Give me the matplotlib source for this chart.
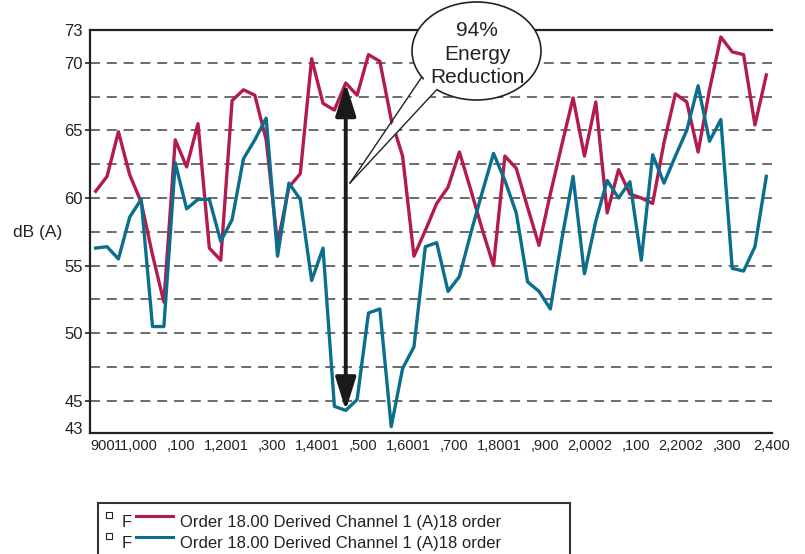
import matplotlib.pyplot as plt
import numpy as np
from matplotlib.lines import Line2D
from matplotlib.patches import Ellipse, Polygon, Rectangle

plt.rcParams['font.family'] = ['Liberation Sans', 'DejaVu Sans']

# --- data -------------------------------------------------------------
rpm = np.arange(912.5, 2400, 25)  # bin centres, 25 rpm apart

order18_before = [60.5, 61.6, 64.9, 61.7, 59.7, 55.8, 52.3, 64.3, 62.3, 65.5,
                  56.3, 55.4, 67.2, 68.0, 67.6, 64.3, 56.6, 60.8, 61.8, 70.3,
                  67.0, 66.5, 68.5, 67.6, 70.6, 70.1, 65.8, 63.1, 55.7, 57.6,
                  59.6, 60.8, 63.4, 60.6, 57.7, 55.0, 63.1, 62.2, 59.3, 56.5,
                  60.3, 63.9, 67.4, 63.1, 67.1, 58.9, 62.1, 60.3, 60.0, 59.6,
                  64.1, 67.7, 67.1, 63.4, 68.0, 71.9, 70.8, 70.6, 65.4, 69.1]

order18_after = [56.3, 56.4, 55.5, 58.6, 59.9, 50.5, 50.5, 62.6, 59.2, 59.9,
                 59.9, 56.8, 58.4, 62.9, 64.3, 65.9, 55.7, 61.1, 59.9, 53.9,
                 56.3, 44.6, 44.3, 45.1, 51.5, 51.8, 43.1, 47.4, 49.0, 56.4,
                 56.7, 53.1, 54.2, 57.4, 60.4, 63.3, 61.3, 58.9, 53.8, 53.1,
                 51.8, 56.9, 61.6, 54.4, 58.3, 61.3, 60.0, 61.2, 55.4, 63.2,
                 61.1, 63.1, 65.0, 68.3, 64.2, 65.8, 54.8, 54.6, 56.4, 61.6]

series_labels = ['Order 18.00 Derived Channel 1 (A)18 order',
                 'Order 18.00 Derived Channel 1 (A)18 order']
colors = ['#b31a4e', '#0a6e8c']

x_ticks = np.arange(900, 2401, 100)
x_ticklabels = ['900', '11,000', ',100', '1,2001', ',300', '1,4001', ',500',
                '1,6001', ',700', '1,8001', ',900', '2,0002', ',100',
                '2,2002', ',300', '2,400']
y_ticks = [43, 45, 50, 55, 60, 65, 70, 72.42]
y_ticklabels = ['43', '45', '50', '55', '60', '65', '70', '73']
grid_levels = np.arange(45, 70.1, 2.5)

arrow_idx = 22  # where the reduction arrow sits
callout = '94%\nEnergy\nReduction'

# --- figure -----------------------------------------------------------
W, H = 805, 554


def fx(px):
    return px / W


def fy(py):
    return 1 - py / H


fig = plt.figure(figsize=(W / 100, H / 100), dpi=100)
ax = fig.add_axes([fx(90), fy(433), (772 - 90) / W, (433 - 30) / H])

for level in grid_levels:
    ax.axhline(level, color='#444444', lw=1.1, ls=(0, (6.5, 4.5)), zorder=1)

ax.plot(rpm, order18_before, color=colors[0], lw=2.4, zorder=3)
ax.plot(rpm, order18_after, color=colors[1], lw=2.4, zorder=3)

ax.annotate('', xy=(rpm[arrow_idx], order18_after[arrow_idx]),
            xytext=(rpm[arrow_idx], order18_before[arrow_idx]),
            arrowprops=dict(arrowstyle='<|-|>,head_length=0.8,head_width=0.25',
                            lw=2.8, color='#1a1a1a', mutation_scale=25,
                            shrinkA=0, shrinkB=0),
            zorder=5)

ax.set_xlim(900, 2400)
ax.set_ylim(42.63, 72.42)
ax.set_xticks(x_ticks)
ax.set_xticklabels(x_ticklabels)
ax.set_yticks(y_ticks)
ax.set_yticklabels(y_ticklabels)
ax.get_xticklabels()[0].set_ha('left')
ax.tick_params(axis='x', length=0, pad=4, labelsize=10.5, colors='#222222')
ax.tick_params(axis='y', length=3.6, width=1.2, pad=1.5, labelsize=12,
               colors='#222222')
yt = ax.yaxis.get_major_ticks()
yt[0].tick1line.set_visible(False)
yt[-1].tick1line.set_visible(False)

for side in ['left', 'bottom', 'top']:
    ax.spines[side].set_linewidth(1.6)
    ax.spines[side].set_color('#222222')
ax.spines['right'].set_visible(False)

ax.set_ylabel('dB (A)', rotation=0, fontsize=12.5, color='#222222',
              ha='center', va='center')
ax.yaxis.set_label_coords((38 - 90) / 682, (433 - 233) / 403)

# --- callout bubble ----------------------------------------------------
cx, cy, a, b = 476.5, 51, 64.5, 49
tip = (350, 183)
base = []
for th in np.radians([148, 128]):
    base.append((cx + a * np.cos(th), cy + b * np.sin(th)))
inner = [(cx + 0.9 * (px - cx), cy + 0.9 * (py - cy)) for px, py in base]

fig.add_artist(Ellipse((fx(cx), fy(cy)), 2 * a / W, 2 * b / H,
                       transform=fig.transFigure, fc='white', ec='#222222',
                       lw=1.2, zorder=10))
fig.add_artist(Polygon([(fx(inner[0][0]), fy(inner[0][1])),
                        (fx(tip[0]), fy(tip[1])),
                        (fx(inner[1][0]), fy(inner[1][1]))],
                       closed=True, transform=fig.transFigure, fc='white',
                       ec='none', zorder=11))
for px, py in base:
    fig.add_artist(Line2D([fx(px), fx(tip[0])], [fy(py), fy(tip[1])],
                          transform=fig.transFigure, color='#222222',
                          lw=1.0, zorder=12))
fig.text(fx(477), fy(54), callout, ha='center', va='center', fontsize=15,
         linespacing=1.3, color='#222222', zorder=13)

# --- legend box --------------------------------------------------------
fig.add_artist(Rectangle((fx(98), fy(580)), (570 - 98) / W, (580 - 503) / H,
                         transform=fig.transFigure, fill=False, ec='#333333',
                         lw=1.5, zorder=5))
for i, (label, color) in enumerate(zip(series_labels, colors)):
    dy = i * 21
    fig.add_artist(Rectangle((fx(106), fy(518 + dy)), 6 / W, 6 / H,
                             transform=fig.transFigure, fc='white',
                             ec='#222222', lw=0.8, zorder=6))
    fig.text(fx(122), fy(527 + dy), 'F', fontsize=12, va='baseline',
             color='#222222')
    fig.add_artist(Line2D([fx(136), fx(173)], [fy(516 + dy), fy(516 + dy)],
                          transform=fig.transFigure, color=color, lw=2.2))
    fig.text(fx(180), fy(527 + dy), label, fontsize=12, va='baseline',
             color='#222222')

fig.savefig('out.png', dpi=100)
